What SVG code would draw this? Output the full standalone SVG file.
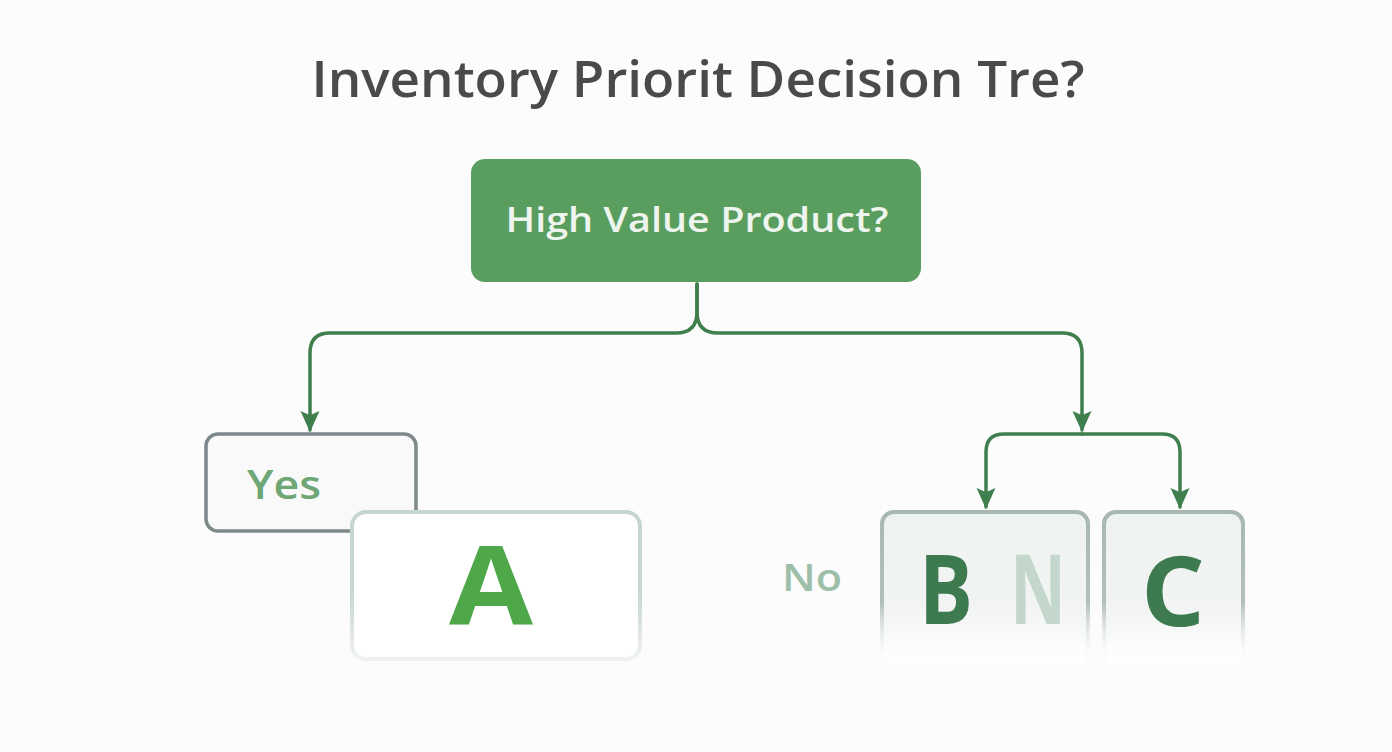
<svg xmlns="http://www.w3.org/2000/svg" width="1392" height="752" viewBox="0 0 1392 752">
<defs>
<style>
.t{font-family:"Open Sans","Liberation Sans",sans-serif;}
.conn{fill:none;stroke:#3f7f4d;stroke-width:3.5;stroke-linecap:round;stroke-linejoin:round;}
</style>
<marker id="arr" viewBox="0 0 10 10" refX="9" refY="5" markerWidth="6" markerHeight="6" orient="auto" markerUnits="strokeWidth">
<path d="M0,0.5 L10,5 L0,9.5 L2,5 z" fill="#3f7f4d"/>
</marker>
<linearGradient id="fadeA" x1="0" y1="0" x2="0" y2="1">
<stop offset="0" stop-color="#c5d6cd"/>
<stop offset="0.55" stop-color="#c9d6d0"/>
<stop offset="1" stop-color="#eef2f0"/>
</linearGradient>
<linearGradient id="fadeB" x1="0" y1="0" x2="0" y2="1">
<stop offset="0" stop-color="#a9b7b3"/>
<stop offset="0.6" stop-color="#b3bfbb"/>
<stop offset="1" stop-color="#ffffff" stop-opacity="0"/>
</linearGradient>
<linearGradient id="fillB" x1="0" y1="0" x2="0" y2="1">
<stop offset="0" stop-color="#eef2f1"/>
<stop offset="0.6" stop-color="#f1f4f3"/>
<stop offset="1" stop-color="#ffffff"/>
</linearGradient>
</defs>
<rect width="1392" height="752" fill="#fcfcfc"/>
<g id="title">
<text class="t" x="698" y="97" text-anchor="middle" font-size="50" font-weight="600" fill="#4a4a4a" textLength="773" lengthAdjust="spacingAndGlyphs">Inventory Priorit Decision Tre?</text>
</g>
<g id="connectors">
<path class="conn" d="M697,284 V312 Q697,333 676,333 H330 Q310,333 310,353 V430" marker-end="url(#arr)"/>
<path class="conn" d="M697,284 V312 Q697,333 718,333 H1062 Q1082,333 1082,353 V430" marker-end="url(#arr)"/>
<path class="conn" d="M1082,434 H1004 Q986,434 986,452 V507" marker-end="url(#arr)"/>
<path class="conn" d="M1082,434 H1162 Q1180,434 1180,452 V507" marker-end="url(#arr)"/>
</g>
<g id="node-root">
<rect x="471" y="159" width="450" height="123" rx="14" fill="#5a9e5f"/>
<text class="t" x="697" y="232" text-anchor="middle" font-size="35" font-weight="600" fill="#eef5ee" textLength="383" lengthAdjust="spacingAndGlyphs">High Value Product?</text>
</g>
<g id="node-yes">
<rect x="206" y="434" width="210" height="97" rx="12" fill="#f9f9f9" stroke="#7d898a" stroke-width="3.5"/>
<text class="t" x="284" y="499" text-anchor="middle" font-size="39" font-weight="600" fill="#6ea676" textLength="74" lengthAdjust="spacingAndGlyphs">Yes</text>
</g>
<g id="node-a">
<rect x="352" y="512" width="288" height="147" rx="14" fill="#ffffff" stroke="url(#fadeA)" stroke-width="4"/>
<text class="t" x="491" y="625" text-anchor="middle" font-size="110" font-weight="700" fill="#4ea84a" textLength="84" lengthAdjust="spacingAndGlyphs">A</text>
</g>
<g id="label-no">
<text class="t" x="812" y="591" text-anchor="middle" font-size="37" font-weight="600" fill="#9dbfaa" textLength="60" lengthAdjust="spacingAndGlyphs">No</text>
</g>
<g id="node-b">
<rect x="882" y="512" width="206" height="152" rx="12" fill="url(#fillB)" stroke="url(#fadeB)" stroke-width="4"/>
<text class="t" x="946" y="624" text-anchor="middle" font-size="96" font-weight="700" fill="#3e7a50" textLength="54" lengthAdjust="spacingAndGlyphs">B</text>
<text class="t" x="1038" y="624" text-anchor="middle" font-size="96" font-weight="700" fill="#c3d7cc" textLength="56" lengthAdjust="spacingAndGlyphs">N</text>
</g>
<g id="node-c">
<rect x="1104" y="512" width="139" height="152" rx="12" fill="url(#fillB)" stroke="url(#fadeB)" stroke-width="4"/>
<text class="t" x="1173" y="626" text-anchor="middle" font-size="96" font-weight="700" fill="#3e7a50" textLength="64" lengthAdjust="spacingAndGlyphs">C</text>
</g>
</svg>
